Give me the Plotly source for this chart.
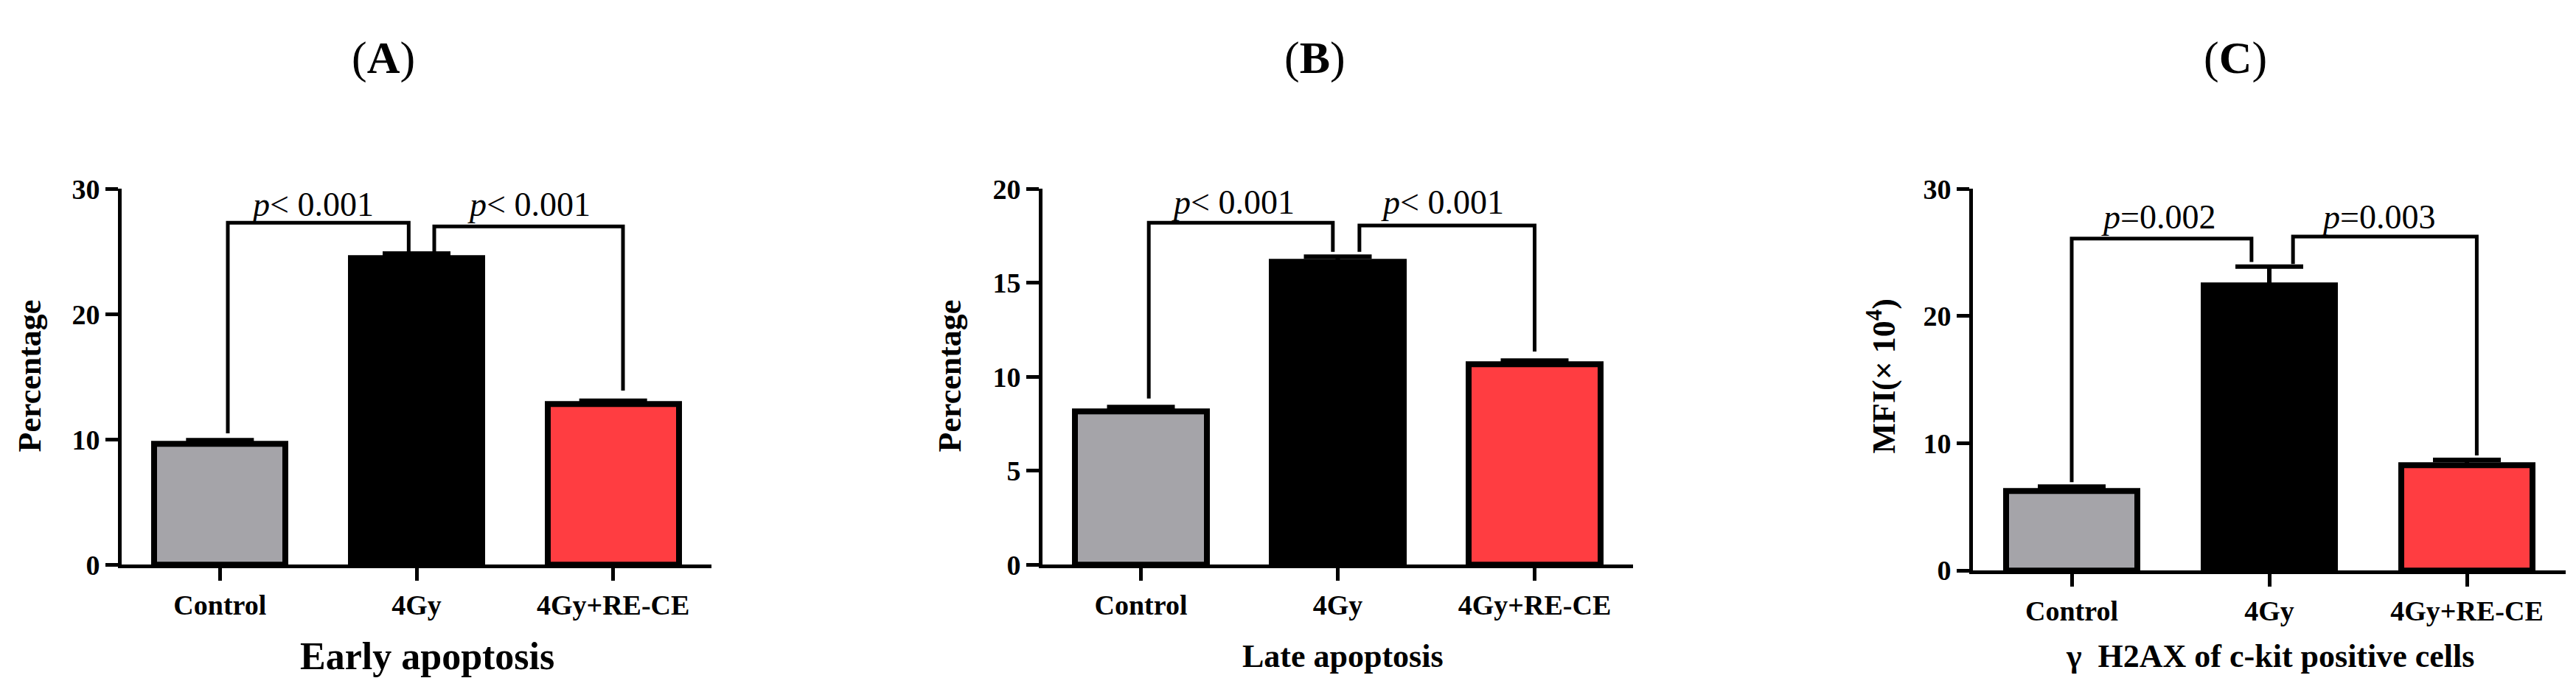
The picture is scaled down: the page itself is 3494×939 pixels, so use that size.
import plotly.graph_objects as go

groups = ['Control', '4Gy', '4Gy+RE-CE']
colors = ['#A5A4A9', '#000000', '#FF3D41']

# panel A - early apoptosis (%)
early_mean = [9.65, 24.5, 12.85]
early_err = [0.3, 0.35, 0.25]
# panel B - late apoptosis (%)
late_mean = [8.15, 16.1, 10.65]
late_err = [0.25, 0.3, 0.22]
# panel C - gamma H2AX MFI (x10^4)
h2ax_mean = [6.25, 22.4, 8.3]
h2ax_err = [0.35, 1.5, 0.4]

# significance brackets: leg x positions, top height, leg bottoms
early_brackets = [([0.04, 0.96], 27.3, [10.5, 25.0]), ([1.09, 2.05], 27.0, [25.0, 13.9])]
late_brackets = [([0.04, 0.975], 18.2, [8.85, 16.65]), ([1.11, 2.0], 18.05, [16.65, 11.35])]
h2ax_brackets = [([0.0, 0.91], 26.1, [6.95, 24.25]), ([1.12, 2.05], 26.25, [24.1, 9.05])]

early_pvals = [(0.47, 28.75, '<i>p</i>< 0.001'), (1.57, 28.75, '<i>p</i>< 0.001')]
late_pvals = [(0.47, 19.3, '<i>p</i>< 0.001'), (1.53, 19.3, '<i>p</i>< 0.001')]
h2ax_pvals = [(0.44, 27.8, '<i>p</i>=0.002'), (1.55, 27.8, '<i>p</i>=0.003')]

FONT = 'Liberation Serif'
W, H = 3494, 939

fig = go.Figure()

panels = [
    dict(mean=early_mean, err=early_err, brackets=early_brackets, pvals=early_pvals, ymax=30, dtick=10,
         xdom=[157 / W, 957 / W], ydom=[1 - 772 / H, 1 - 238 / H],
         title='(<b>A</b>)', title_x=512, ylabel='Percentage', ylabel_x=32,
         xlabel='Early apoptosis', xlabel_x=571, xlabel_size=52),
    dict(mean=late_mean, err=late_err, brackets=late_brackets, pvals=late_pvals, ymax=20, dtick=5,
         xdom=[1406 / W, 2207 / W], ydom=[1 - 772 / H, 1 - 238 / H],
         title='(<b>B</b>)', title_x=1775, ylabel='Percentage', ylabel_x=1280,
         xlabel='Late apoptosis', xlabel_x=1813, xlabel_size=44),
    dict(mean=h2ax_mean, err=h2ax_err, brackets=h2ax_brackets, pvals=h2ax_pvals, ymax=30, dtick=10,
         xdom=[2668 / W, 3472 / W], ydom=[1 - 780 / H, 1 - 238 / H],
         title='(<b>C</b>)', title_x=3024, ylabel='MFI(× 10<sup>4</sup>)', ylabel_x=2544,
         xlabel='γ  H2AX of c-kit positive cells', xlabel_x=3071, xlabel_size=44),
]

annotations = []
for i, p in enumerate(panels):
    n = '' if i == 0 else str(i + 1)
    xa, ya = 'x' + n, 'y' + n
    fig.add_trace(go.Bar(
        x=[0, 1, 2], y=p['mean'], width=0.667, xaxis=xa, yaxis=ya,
        marker=dict(color=colors, line=dict(color='black', width=8)),
        error_y=dict(type='data', array=p['err'], arrayminus=[0, 0, 0], symmetric=False,
                     color='black', thickness=6, width=46),
        showlegend=False))
    for legs, top, bottoms in p['brackets']:
        fig.add_trace(go.Scatter(
            x=[legs[0], legs[0], legs[1], legs[1]], y=[bottoms[0], top, top, bottoms[1]],
            mode='lines', line=dict(color='black', width=5), xaxis=xa, yaxis=ya,
            showlegend=False, hoverinfo='skip'))
    for px, py, txt in p['pvals']:
        annotations.append(dict(x=px, y=py, xref=xa, yref=ya, text=txt, showarrow=False,
                                xanchor='center', yanchor='middle',
                                font=dict(family=FONT, size=46, color='black')))
    annotations.append(dict(x=p['title_x'] / W, y=1 - 52 / H, xref='paper', yref='paper', text=p['title'],
                            showarrow=False, xanchor='center', yanchor='middle',
                            font=dict(family=FONT, size=62, color='black')))
    annotations.append(dict(x=p['ylabel_x'] / W, y=1 - 504 / H, xref='paper', yref='paper',
                            text='<b>' + p['ylabel'] + '</b>', textangle=-90, showarrow=False,
                            xanchor='center', yanchor='middle',
                            font=dict(family=FONT, size=44, color='black')))
    annotations.append(dict(x=p['xlabel_x'] / W, y=1 - 902 / H, xref='paper', yref='paper',
                            text='<b>' + p['xlabel'] + '</b>', showarrow=False,
                            xanchor='center', yanchor='middle',
                            font=dict(family=FONT, size=p['xlabel_size'], color='black')))
    axis_common = dict(showline=True, linecolor='black', linewidth=5, ticks='outside', ticklen=17,
                       tickwidth=5, tickcolor='black', showgrid=False, zeroline=False,
                       tickfont=dict(family=FONT, size=38, color='black', weight='bold'))
    fig.update_layout({
        'xaxis' + n: dict(domain=p['xdom'], range=[-0.5, 2.5], tickvals=[0, 1, 2], ticktext=groups,
                          anchor=ya, **axis_common),
        'yaxis' + n: dict(domain=p['ydom'], range=[0, p['ymax']], dtick=p['dtick'], anchor=xa,
                          **axis_common),
    })

fig.update_layout(
    width=W, height=H,
    margin=dict(l=0, r=0, t=0, b=0),
    paper_bgcolor='white', plot_bgcolor='white',
    annotations=annotations,
    bargap=0
)

fig.write_html("out.html")
